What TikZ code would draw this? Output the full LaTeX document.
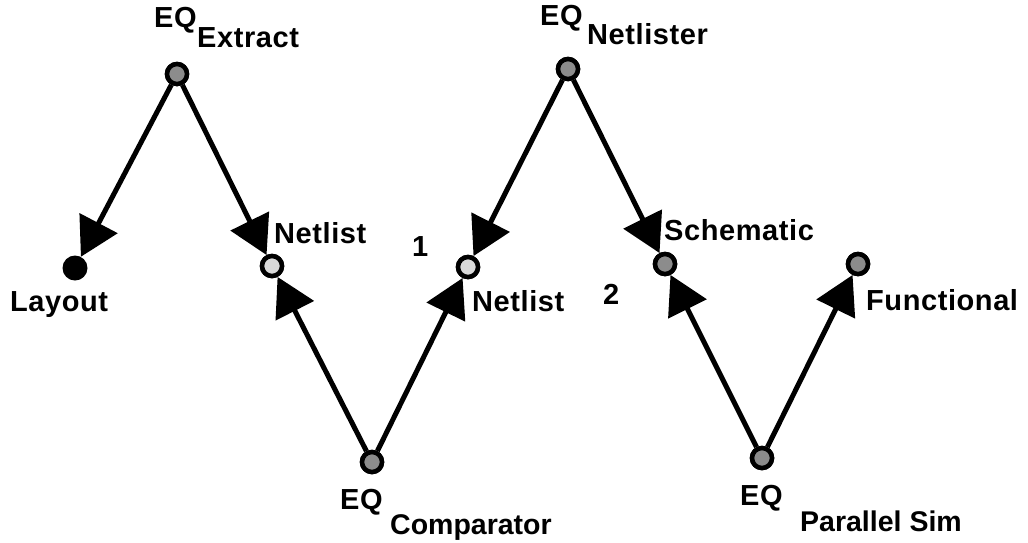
\documentclass[tikz,border=0pt]{standalone}
\usepackage{fontspec}
\newfontfamily\labb[LetterSpace=2]{Liberation Sans Bold}
\newfontfamily\labc{Liberation Sans Bold}
\usetikzlibrary{arrows.meta}
\begin{document}
\begin{tikzpicture}[x=1pt,y=-1pt,
  eqnode/.style={circle,draw=black,line width=4.5pt,fill=black!45,minimum size=20pt,inner sep=0pt},
  netnode/.style={circle,draw=black,line width=4.5pt,fill=black!15,minimum size=20pt,inner sep=0pt},
  endnode/.style={circle,fill=black,minimum size=25pt,inner sep=0pt},
  link/.style={line width=5pt,-{Triangle[length=38pt,width=42pt]}},
  lb/.style={anchor=base west,inner sep=0pt,font=\labb\fontsize{29}{32}\selectfont},
  lr/.style={anchor=base west,inner sep=0pt,font=\labc\fontsize{28.5}{32}\selectfont}]
\useasboundingbox (0,0) rectangle (1028,542);
% nodes
\node[eqnode] (ex) at (177,74) {};
\node[endnode] (lay) at (75,268) {};
\node[netnode] (n1) at (272,266) {};
\node[eqnode] (cmp) at (372,462) {};
\node[netnode] (n2) at (468,267) {};
\node[eqnode] (nl) at (568,69) {};
\node[eqnode] (sch) at (665,264) {};
\node[eqnode] (ps) at (762,458) {};
\node[eqnode] (fn) at (858,264) {};
% connectors
\draw[link] (ex) -- (lay);
\draw[link] (ex) -- (n1);
\draw[link] (cmp) -- (n1);
\draw[link] (cmp) -- (n2);
\draw[link] (nl) -- (n2);
\draw[link] (nl) -- (sch);
\draw[link] (ps) -- (sch);
\draw[link] (ps) -- (fn);
% redraw nodes on top
\node[eqnode] at (ex) {};
\node[netnode] at (n1) {};
\node[eqnode] at (cmp) {};
\node[netnode] at (n2) {};
\node[eqnode] at (nl) {};
\node[eqnode] at (sch) {};
\node[eqnode] at (ps) {};
\node[eqnode] at (fn) {};
% labels
\node[lb] (t1) at (154,27) {EQ};
\node[lb] (t2) at (197,47) {Extract};
\node[lb] (t3) at (540,25) {EQ};
\node[lb] (t4) at (587,44) {Netlister};
\node[lb] (t5) at (340,509) {EQ};
\node[lr] (t6) at (390,534) {Comparator};
\node[lb] (t7) at (740,505) {EQ};
\node[lr] (t8) at (800,531) {Parallel Sim};
\node[lb] (t9) at (274,243) {Netlist};
\node[lb] (t10) at (412,256) {1};
\node[lb] (t11) at (10,311) {Layout};
\node[lb] (t12) at (472,311) {Netlist};
\node[lb] (t13) at (603,304) {2};
\node[lb] (t14) at (664,240) {Schematic};
\node[lb] (t15) at (866,310) {Functional};
\end{tikzpicture}
\end{document}
